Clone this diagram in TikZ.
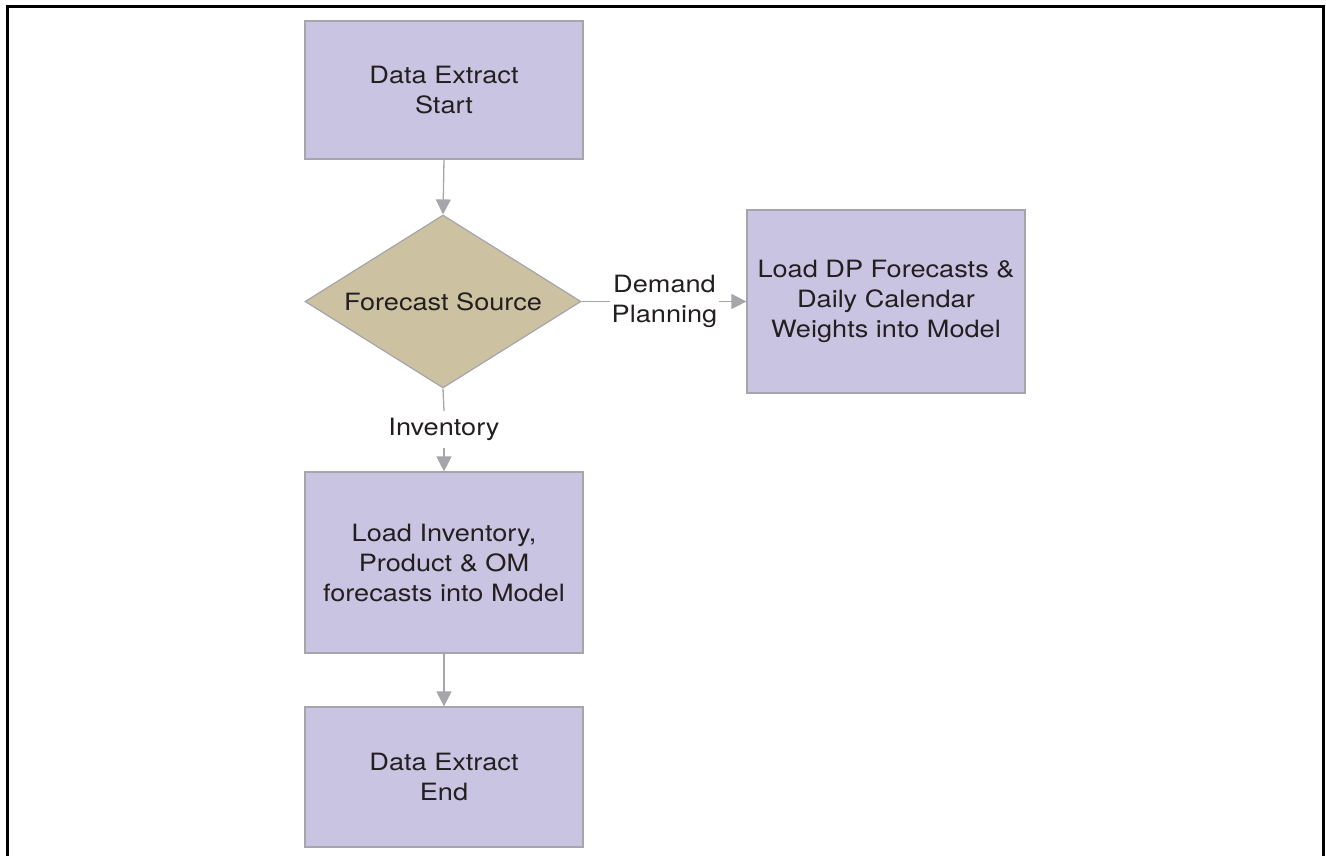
\documentclass[tikz,border=0pt]{standalone}
\usepackage{fontspec}
\setmainfont{TeX Gyre Heros}[FakeStretch=1.14]
\usetikzlibrary{shapes.geometric,arrows.meta}
\definecolor{boxfill}{RGB}{200,196,225}
\definecolor{boxline}{RGB}{165,165,172}
\definecolor{decfill}{RGB}{204,193,160}
\definecolor{flow}{RGB}{165,165,170}
\definecolor{ink}{RGB}{35,31,32}
\tikzset{
  txt/.style={text=ink, font=\fontsize{23.8pt}{30pt}\selectfont},
  stepbox/.style={txt, draw=boxline, line width=1.2pt, fill=boxfill, rectangle,
    minimum width=278pt, inner sep=0pt, align=center},
  decision/.style={txt, draw=boxline, line width=1.2pt, fill=decfill, diamond,
    aspect=1.595, minimum width=276pt, minimum height=173pt, inner sep=0pt},
  flowlabel/.style={txt, inner sep=0pt, align=center},
  flowline/.style={draw=flow, line width=1.3pt},
  flowarrow/.style={flowline, -{Triangle[length=15pt,width=15pt]}}
}
\begin{document}
\begin{tikzpicture}[x=1pt,y=-1pt]
  \useasboundingbox (0,0) rectangle (1326,856);
  % outer frame, open at the bottom of the page
  \draw[line width=2.6pt] (7.5,880) -- (7.5,6.5) -- (1323.5,6.5) -- (1323.5,880);

  \node[stepbox, minimum height=138pt] (start) at (444,90) {Data Extract\\Start};
  \node[decision] (src) at (443,301.5) {Forecast Source};
  \node[stepbox, minimum height=183pt] (dp) at (886,301.5)
    {Load DP Forecasts \&\\Daily Calendar\\Weights into Model};
  \node[stepbox, minimum height=181pt] (inv) at (444,562.5)
    {Load Inventory,\\Product \& OM\\forecasts into Model};
  \node[stepbox, minimum height=140pt] (end) at (444,777)
    {Data Extract\\End};

  \node[flowlabel, minimum width=109pt, minimum height=66pt] (lbdp) at (664.5,301)
    {Demand\\Planning};
  \node[flowlabel, minimum height=37pt] (lbinv) at (444,429.5) {Inventory};

  \draw[flowarrow] (start.south) -- (src.north);
  \draw[flowline] (src.east) -- (src.east -| lbdp.west);
  \draw[flowarrow] (src.east -| lbdp.east) -- (src.east -| dp.west);
  \draw[flowline] (src.south) -- (lbinv.north);
  \draw[flowarrow] (lbinv.south) -- (inv.north);
  \draw[flowarrow] (inv.south) -- (end.north);
\end{tikzpicture}
\end{document}
